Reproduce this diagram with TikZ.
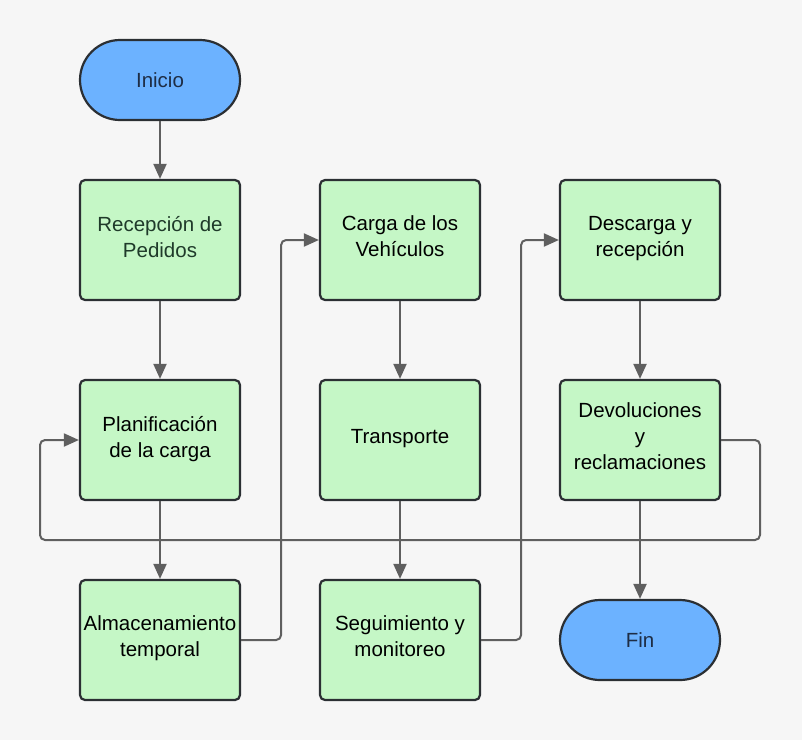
\documentclass[tikz,border=0pt]{standalone}
\usepackage{fontspec}
\setmainfont{Liberation Sans}
\usetikzlibrary{arrows.meta}

\definecolor{fondo}{HTML}{F6F6F6}
\definecolor{verde}{HTML}{C5F7C6}
\definecolor{azul}{HTML}{6CB2FF}
\definecolor{borde}{HTML}{2B2F33}
\definecolor{linea}{HTML}{5F5F5F}
\definecolor{textoazul}{HTML}{1E2D45}
\definecolor{textoverde}{HTML}{1F3A2A}

\begin{document}
\begin{tikzpicture}[
        x=1pt, y=-1pt,
        every node/.style={
            font=\fontsize{20.5}{26}\selectfont,
            align=center,
            inner sep=0pt
        },
        proceso/.style={
            rectangle,
            rounded corners=5pt,
            draw=borde,
            fill=verde,
            line width=2.2pt,
            minimum width=160pt,
            minimum height=120pt,
            text depth=7pt
        },
        terminal/.style={
            rectangle,
            rounded corners=40pt,
            draw=borde,
            fill=azul,
            text=textoazul,
            line width=2.2pt,
            minimum width=160pt,
            minimum height=80pt
        },
        flecha/.style={
            draw=linea,
            line width=2pt,
            rounded corners=5pt,
            -{Triangle[length=15pt,width=13pt]}
        }
    ]

    % Fondo
    \fill[fondo] (0,0) rectangle (802,740);
    \useasboundingbox (0,0) rectangle (802,740);

    % Inicio y fin
    \node[terminal] (inicio) at (160,80)  {Inicio};
    \node[terminal] (fin)    at (640,640) {Fin};

    % Procesos
    \node[proceso, text=textoverde] (recepcion) at (160,240) {Recepción de\\Pedidos};
    \node[proceso] (planif)    at (160,440) {Planificación\\de la carga};
    \node[proceso] (almac)     at (160,640) {Almacenamiento\\temporal};
    \node[proceso] (carga)     at (400,240) {Carga de los\\Vehículos};
    \node[proceso] (transp)    at (400,440) {Transporte};
    \node[proceso] (seguim)    at (400,640) {Seguimiento y\\monitoreo};
    \node[proceso] (descarga)  at (640,240) {Descarga y\\recepción};
    \node[proceso] (devol)     at (640,440) {Devoluciones\\y\\reclamaciones};

    % Puntos de retorno
    \coordinate (vuelta1) at (760,540);
    \coordinate (vuelta2) at (40,540);

    % Conectores
    \draw[flecha] (inicio) -- (recepcion);
    \draw[flecha] (recepcion) -- (planif);
    \draw[flecha] (planif) -- (almac);
    \draw[flecha] (almac.east) -- ++(40,0) |- (carga.west);
    \draw[flecha] (carga) -- (transp);
    \draw[flecha] (transp) -- (seguim);
    \draw[flecha] (seguim.east) -- ++(40,0) |- (descarga.west);
    \draw[flecha] (descarga) -- (devol);
    \draw[flecha] (devol) -- (fin);
    \draw[flecha] (devol.east) -| (vuelta1) -- (vuelta2) |- (planif.west);

\end{tikzpicture}
\end{document}
